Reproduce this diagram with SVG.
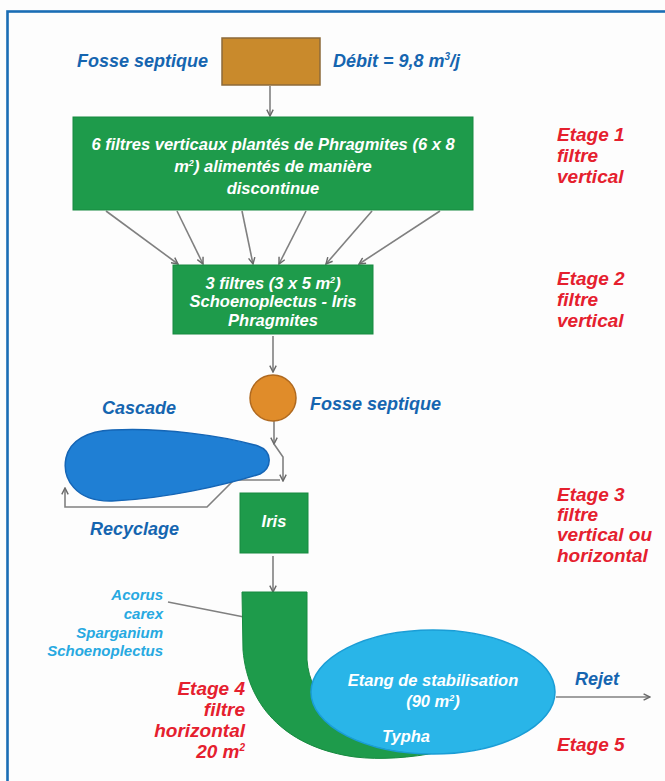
<svg xmlns="http://www.w3.org/2000/svg" width="665" height="781" viewBox="0 0 665 781">
<defs>
<style>
text{font-family:"Liberation Sans",Arial,sans-serif;font-weight:bold;font-style:italic}
.blue{fill:#1565b0;font-size:18px}
.red{fill:#e5202e;font-size:19px}
.cyan{fill:#27a9e1;font-size:15px}
.w{fill:#ffffff;font-size:16.5px;text-anchor:middle}
.green{fill:#1e9b4b;stroke:#178a40;stroke-width:1}
.conn{fill:none;stroke:#808080;stroke-width:1.6}
</style>
<marker id="ah" viewBox="0 0 10 10" refX="9" refY="5" markerWidth="8" markerHeight="8" orient="auto" markerUnits="userSpaceOnUse">
<path d="M1,1 L9,5 L1,9" fill="none" stroke="#6a6a6a" stroke-width="1.8"/>
</marker>
</defs>
<rect x="0" y="0" width="665" height="781" fill="#fdfdfd"/>
<rect x="7.5" y="11.5" width="700" height="800" fill="none" stroke="#1a6db5" stroke-width="2.6"/>

<g id="connectors">
<line class="conn" x1="270" y1="86" x2="270" y2="116" marker-end="url(#ah)"/>
<line class="conn" x1="106" y1="211" x2="178" y2="264" marker-end="url(#ah)"/>
<line class="conn" x1="177" y1="211" x2="203" y2="264" marker-end="url(#ah)"/>
<line class="conn" x1="242" y1="211" x2="253" y2="264" marker-end="url(#ah)"/>
<line class="conn" x1="306" y1="211" x2="279" y2="264" marker-end="url(#ah)"/>
<line class="conn" x1="372" y1="211" x2="326" y2="264" marker-end="url(#ah)"/>
<line class="conn" x1="440" y1="211" x2="359" y2="264" marker-end="url(#ah)"/>
<line class="conn" x1="273" y1="336" x2="273" y2="372" marker-end="url(#ah)"/>
<line class="conn" x1="274" y1="421" x2="274" y2="444" marker-end="url(#ah)"/>
<polyline class="conn" points="274,444 283,457 283,481" marker-end="url(#ah)"/>
<polyline class="conn" points="280,480 234,480 207,507 65,507 65,488" marker-end="url(#ah)"/>
<line class="conn" x1="273" y1="556" x2="273" y2="592" marker-end="url(#ah)"/>
<line class="conn" x1="168" y1="602" x2="244" y2="617"/>
<line class="conn" x1="556" y1="697" x2="650" y2="697" marker-end="url(#ah)"/>
</g>

<g id="fosse1">
<rect x="222" y="38" width="98" height="47" fill="#c98a2c" stroke="#8c6a3a" stroke-width="1.5"/>
<text class="blue" x="208" y="67" text-anchor="end">Fosse septique</text>
<text class="blue" x="333" y="67">Débit = 9,8 m<tspan font-size="10" dy="-7">3</tspan><tspan dy="7">/j</tspan></text>
</g>

<g id="etage1">
<rect class="green" x="73" y="117" width="400" height="93"/>
<text class="w" x="273" y="150">6 filtres verticaux plantés de Phragmites (6 x 8</text>
<text class="w" x="273" y="172">m<tspan font-size="9" dy="-6">2</tspan><tspan dy="6">) alimentés de manière</tspan></text>
<text class="w" x="273" y="194">discontinue</text>
</g>

<g id="etage2">
<rect class="green" x="173" y="265" width="200" height="69"/>
<text class="w" x="273" y="289">3 filtres (3 x 5 m<tspan font-size="9" dy="-6">2</tspan><tspan dy="6">)</tspan></text>
<text class="w" x="273" y="307">Schoenoplectus - Iris</text>
<text class="w" x="273" y="326">Phragmites</text>
</g>

<g id="fosse2">
<circle cx="273" cy="398" r="23" fill="#e08c2a" stroke="#b06a20" stroke-width="1.5"/>
<text class="blue" x="310" y="410">Fosse septique</text>
</g>

<g id="cascade">
<path d="M112,430 C160,427 225,436 258,446 C272,451 273,467 260,474 C225,485 165,499 112,501 C75,502 62,478 66,458 C70,440 88,431 112,430 Z" fill="#1f7fd4" stroke="#1565b5" stroke-width="1.5"/>
<text class="blue" x="102" y="414">Cascade</text>
<text class="blue" x="90" y="535">Recyclage</text>
</g>

<g id="iris">
<rect class="green" x="240" y="493" width="68" height="60"/>
<text class="w" x="274" y="527">Iris</text>
</g>

<g id="etage4">
<path d="M242,592 H307 V660 C310,700 340,725 400,735 L440,740 L440,752 C410,758 380,760 355,757 C290,748 248,710 243,650 Z" fill="#1e9b4b" stroke="#178a40" stroke-width="1"/>
<text class="cyan" x="163" y="600" text-anchor="end">Acorus</text>
<text class="cyan" x="163" y="619" text-anchor="end">carex</text>
<text class="cyan" x="163" y="638" text-anchor="end">Sparganium</text>
<text class="cyan" x="163" y="656" text-anchor="end">Schoenoplectus</text>
<text class="red" x="245" y="695" text-anchor="end">Etage 4</text>
<text class="red" x="245" y="716" text-anchor="end">filtre</text>
<text class="red" x="245" y="737" text-anchor="end">horizontal</text>
<text class="red" x="245" y="758" text-anchor="end">20 m<tspan font-size="10" dy="-7">2</tspan></text>
</g>

<g id="etang">
<ellipse cx="433" cy="692" rx="122" ry="62" fill="#29b5e8" stroke="#1a9dd6" stroke-width="1.5"/>
<text class="w" x="433" y="686" font-size="17">Etang de stabilisation</text>
<text class="w" x="433" y="707" font-size="17">(90 m<tspan font-size="9" dy="-6">2</tspan><tspan dy="6">)</tspan></text>
<text class="w" x="406" y="742" font-size="17">Typha</text>
<text class="blue" x="575" y="685">Rejet</text>
<text class="red" x="557" y="751">Etage 5</text>
</g>

<g id="labels">
<text class="red" x="557" y="141">Etage 1</text>
<text class="red" x="557" y="162">filtre</text>
<text class="red" x="557" y="183">vertical</text>
<text class="red" x="557" y="285">Etage 2</text>
<text class="red" x="557" y="306">filtre</text>
<text class="red" x="557" y="327">vertical</text>
<text class="red" x="557" y="501">Etage 3</text>
<text class="red" x="557" y="521">filtre</text>
<text class="red" x="557" y="541">vertical ou</text>
<text class="red" x="557" y="562">horizontal</text>
</g>
</svg>
